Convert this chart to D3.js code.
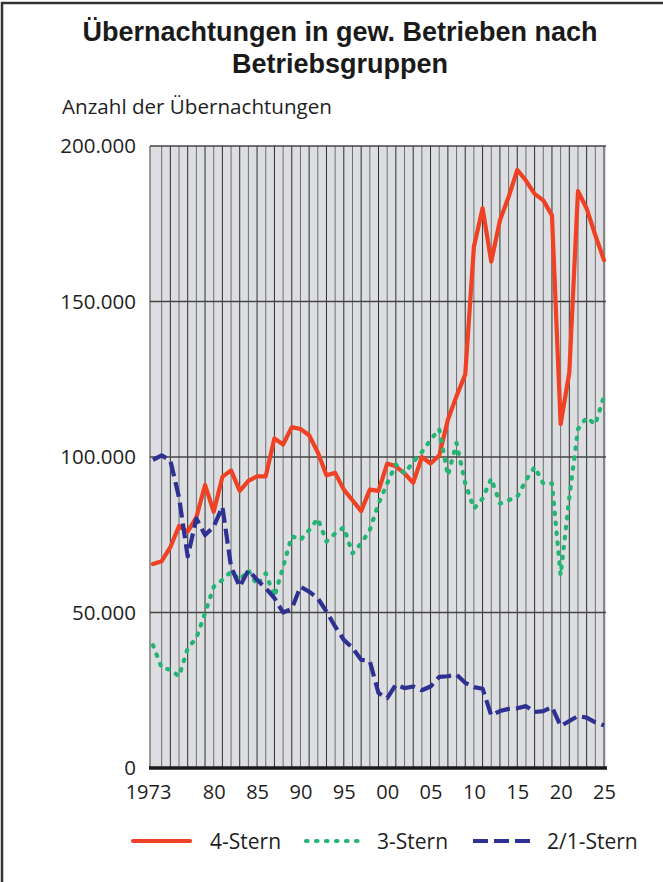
<!DOCTYPE html>
<html><head><meta charset="utf-8">
<script src="https://cdn.jsdelivr.net/npm/d3@7"></script>
<style>
html,body{margin:0;padding:0;background:#fff;}
svg{display:block;}
</style></head>
<body>
<svg id="chart" width="663" height="882"></svg>
<script>
const years = d3.range(1973, 2026);
const stern4 = [65.6,66.5,71,77.8,76,80.6,91,82.4,93.6,95.7,89.1,92.3,93.8,93.8,106,104,109.6,109,107,101.5,94.1,94.9,89.5,86.1,82.6,89.5,89.1,97.9,97,94.7,91.7,100,97.9,100.5,112,119.6,126.5,167.6,180,162.8,176.1,183.6,192.3,188.9,184.6,182.5,177.7,110.6,127.1,185.5,179.9,171.3,163.3];
const stern3 = [39.5,32.2,31.6,29.5,38.5,41.8,49.8,58.3,60.5,63.1,60.5,63.6,58.8,62.6,55.1,64.7,74.6,73.3,76.5,80.2,72.8,75.4,77.4,69,72.2,76.5,85,91.5,97.6,94.7,98.4,101.6,105.5,109,94,104.5,91.5,83.4,86.6,93.1,85,86.1,87.2,92.5,96.8,91.5,91.5,62,87,109,112.7,110.5,119.6];
const stern21 = [99.1,100.5,98.9,87,68,80.2,74.9,77.6,84,64.7,58.3,63.6,60.5,57.8,54.6,50,51.2,58.3,56.7,54.6,50.3,45.5,41.2,38.6,34.8,34.3,24.1,22.5,26.8,25.7,26.2,25,26.2,29.3,29.5,30,27.4,26,25.5,16.9,18.3,19,19.2,19.9,18,18.3,19.6,13.5,15.1,16.7,16.2,14.7,13.7];
const seriesNames = ["4-Stern","3-Stern","2/1-Stern"];
const yTicks = [0,50000,100000,150000,200000];
const xTicks = [1973,1980,1985,1990,1995,2000,2005,2010,2015,2020,2025];
const xTickLabels = ["1973","80","85","90","95","00","05","10","15","20","25"];

const svg = d3.select("#chart");
const font = "'Open Sans', sans-serif";

// outer frame
svg.append("rect").attr("x",2).attr("y",3).attr("width",700).attr("height",900)
  .attr("fill","none").attr("stroke","#333").attr("stroke-width",2.5);

// titles
svg.append("text").attr("x",340).attr("y",41).attr("text-anchor","middle")
  .attr("font-family","'Liberation Sans', Arial, sans-serif").attr("font-weight","bold")
  .attr("font-size",27).attr("fill","#1a1a1a").text("Übernachtungen in gew. Betrieben nach");
svg.append("text").attr("x",340).attr("y",73).attr("text-anchor","middle")
  .attr("font-family","'Liberation Sans', Arial, sans-serif").attr("font-weight","bold")
  .attr("font-size",27).attr("fill","#1a1a1a").text("Betriebsgruppen");
svg.append("text").attr("x",62).attr("y",114)
  .attr("font-family",font).attr("font-size",20.6).attr("fill","#1e1e1e").text("Anzahl der Übernachtungen");

const plotL = 150, plotR = 606, plotT = 146, plotB = 768;
const x = d3.scaleLinear().domain([1973,2025]).range([153,604]);
const y = d3.scaleLinear().domain([0,200000]).range([plotB, plotT]);

svg.append("rect").attr("x",plotL).attr("y",plotT).attr("width",plotR-plotL).attr("height",plotB-plotT)
  .attr("fill","#dddee1");

// vertical grid lines
svg.append("g").selectAll("line").data(years.slice(1)).join("line")
  .attr("x1",d=>x(d)).attr("x2",d=>x(d)).attr("y1",plotT).attr("y2",plotB)
  .attr("stroke",(d,i)=> i%2 ? "#2e2e2e" : "#6e6e6e").attr("stroke-width",1);
svg.append("line").attr("x1",plotL).attr("x2",plotL).attr("y1",plotT).attr("y2",plotB)
  .attr("stroke","#777").attr("stroke-width",1.5);
// horizontal grid lines
svg.append("g").selectAll("line").data(yTicks.slice(1)).join("line")
  .attr("x1",plotL).attr("x2",plotR).attr("y1",d=>y(d)).attr("y2",d=>y(d))
  .attr("stroke","#444").attr("stroke-width",1.3);

// axes
const fmt = d => d3.format(",")(d).replace(/,/g,".");
const yAxis = svg.append("g").attr("transform",`translate(${plotL},0)`)
  .call(d3.axisLeft(y).tickValues(yTicks).tickFormat(fmt).tickSize(0).tickPadding(14));
yAxis.select(".domain").remove();
yAxis.selectAll("text").attr("font-family",font).attr("font-size",20.5).attr("fill","#1e1e1e");

const xAxis = svg.append("g").attr("transform",`translate(0,${plotB})`)
  .call(d3.axisBottom(x).tickValues(xTicks).tickFormat((d,i)=>xTickLabels[i]).tickSize(0).tickPadding(17));
xAxis.select(".domain").remove();
xAxis.selectAll("text").attr("font-family",font).attr("font-size",20).attr("fill","#1e1e1e")
  .attr("dx",(d)=> d===1973 ? -5 : 0);

svg.append("line").attr("x1",plotL-1).attr("x2",plotR+1).attr("y1",plotB).attr("y2",plotB)
  .attr("stroke","#1a1a1a").attr("stroke-width",3.5);

const styles = [
  {name:seriesNames[0], data:stern4, color:"#ef4123", dash:null, cap:"round"},
  {name:seriesNames[1], data:stern3, color:"#22b573", dash:"1.5,8.5", cap:"round"},
  {name:seriesNames[2], data:stern21, color:"#2e3192", dash:"15,6", cap:"butt"}
];
const line = d3.line().x((d,i)=>x(years[i])).y(d=>y(d*1000));
styles.forEach(s=>{
  svg.append("path").datum(s.data).attr("d",line)
    .attr("fill","none").attr("stroke",s.color).attr("stroke-width",4.2)
    .attr("stroke-linejoin","round").attr("stroke-linecap",s.cap)
    .attr("stroke-dasharray",s.dash);
});

// legend
const legX = [133, 306, 473];
const legLen = [57, 57, 60];
const legTextX = [210, 377, 547];
const legY = 841;
styles.forEach((s,i)=>{
  svg.append("line").attr("x1",legX[i]).attr("x2",legX[i]+legLen[i]).attr("y1",legY).attr("y2",legY)
    .attr("stroke",s.color).attr("stroke-width",4.2).attr("stroke-linecap",s.cap)
    .attr("stroke-dasharray",s.dash);
  svg.append("text").attr("x",legTextX[i]).attr("y",849)
    .attr("font-family",font).attr("font-size",21).attr("fill","#1e1e1e").text(s.name);
});
</script>
</body></html>
